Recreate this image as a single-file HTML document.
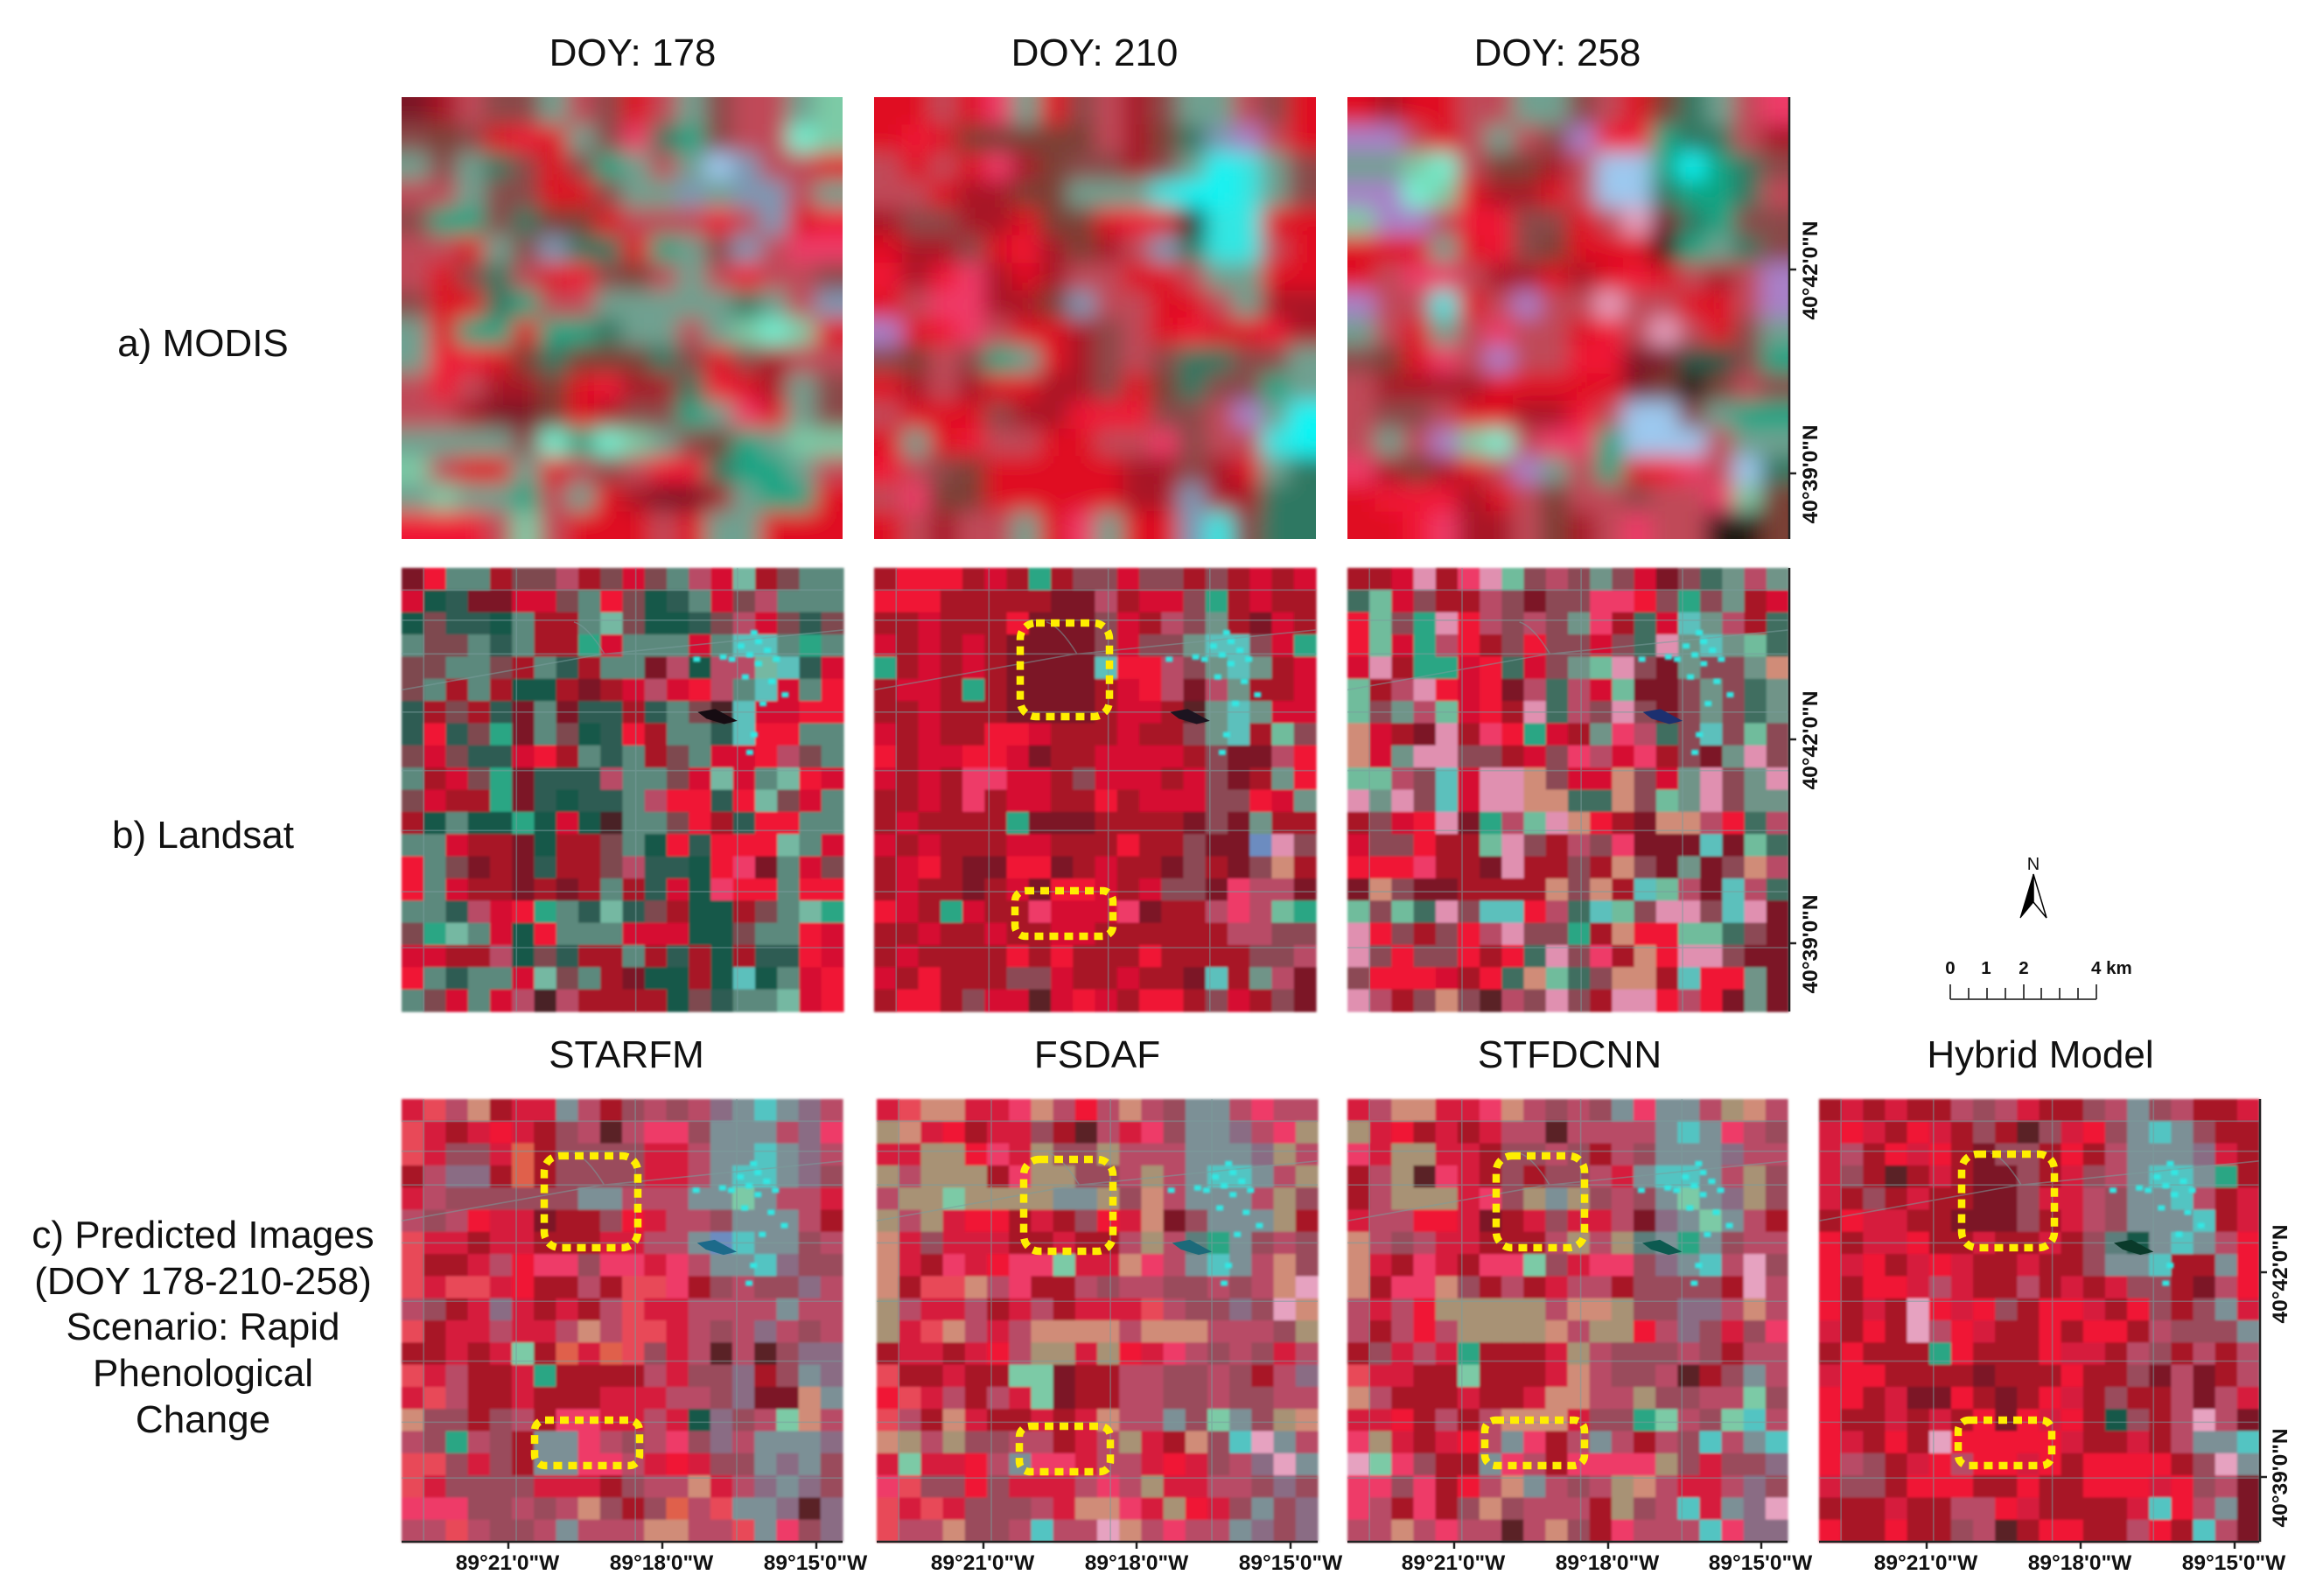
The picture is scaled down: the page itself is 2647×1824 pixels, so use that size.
<!DOCTYPE html>
<html lang="en">
<head>
<meta charset="utf-8">
<title>Satellite image fusion comparison</title>
<style>
html,body{margin:0;padding:0;background:#fff;}
svg{display:block;}
text{font-family:"Liberation Sans",Arial,sans-serif;fill:#111;}
.hd{font-size:44px;text-anchor:middle;}
.ax{font-size:24.5px;font-weight:bold;text-anchor:middle;}
.box{fill:none;stroke:#ffee00;stroke-width:8.5;stroke-dasharray:10 7;}
.axl{stroke:#222;stroke-width:2.5;fill:none;}
.road{fill:none;stroke:#7a9c9c;stroke-width:1.6;opacity:.55;}
</style>
</head>
<body>
<svg id="figure" xmlns="http://www.w3.org/2000/svg" width="2647" height="1824" viewBox="0 0 2647 1824">
<defs>
<filter id="modisBlur" filterUnits="userSpaceOnUse" x="300" y="0" width="1900" height="760"><feGaussianBlur stdDeviation="12.5"/></filter>
<filter id="fieldBlur" filterUnits="userSpaceOnUse" x="300" y="500" width="2400" height="1324"><feGaussianBlur stdDeviation="1.2"/></filter>
<clipPath id="c1"><rect x="459" y="111" width="504" height="505"/></clipPath>
<clipPath id="c2"><rect x="999" y="111" width="505" height="505"/></clipPath>
<clipPath id="c3"><rect x="1540" y="111" width="504" height="505"/></clipPath>
</defs>
<rect width="2647" height="1824" fill="#fff"/>

<text class="hd" x="723" y="75">DOY: 178</text>
<text class="hd" x="1251" y="75">DOY: 210</text>
<text class="hd" x="1780" y="75">DOY: 258</text>

<text class="hd" x="232" y="407">a) MODIS</text>
<text class="hd" x="232" y="969">b) Landsat</text>
<g>
<text class="hd" x="232" y="1426">c) Predicted Images</text>
<text class="hd" x="232" y="1479">(DOY 178-210-258)</text>
<text class="hd" x="232" y="1531">Scenario: Rapid</text>
<text class="hd" x="232" y="1584">Phenological</text>
<text class="hd" x="232" y="1637">Change</text>
</g>

<g id="p-modis-178" clip-path="url(#c1)"></g>
<g id="p-modis-210" clip-path="url(#c2)"></g>
<g id="p-modis-258" clip-path="url(#c3)"></g>
<g id="p-land-178"></g>
<g id="p-land-210"></g>
<g id="p-land-258"></g>
<g id="p-starfm"></g>
<g id="p-fsdaf"></g>
<g id="p-stfdcnn"></g>
<g id="p-hybrid"></g>

<rect class="box" x="1166" y="712" width="102" height="107" rx="18"/>
<rect class="box" x="1160" y="1018" width="112" height="52" rx="12"/>
<rect class="box" x="622" y="1321" width="107" height="105" rx="18"/>
<rect class="box" x="611" y="1623" width="120" height="52" rx="12"/>
<rect class="box" x="1170" y="1325" width="102" height="105" rx="18"/>
<rect class="box" x="1165" y="1630" width="104" height="52" rx="12"/>
<rect class="box" x="1710" y="1321" width="101" height="105" rx="18"/>
<rect class="box" x="1697" y="1623" width="114" height="52" rx="12"/>
<rect class="box" x="2242" y="1319" width="106" height="107" rx="18"/>
<rect class="box" x="2238" y="1623" width="107" height="52" rx="12"/>

<text class="hd" x="716" y="1220">STARFM</text>
<text class="hd" x="1254" y="1220">FSDAF</text>
<text class="hd" x="1794" y="1220">STFDCNN</text>
<text class="hd" x="2332" y="1220">Hybrid Model</text>

<g>
<path class="axl" d="M2045 111V616M2045 308H2053M2045 541H2053"/>
<text class="ax" transform="translate(2077,309) rotate(-90)">40°42'0"N</text>
<text class="ax" transform="translate(2077,542) rotate(-90)">40°39'0"N</text>
</g>
<g>
<path class="axl" d="M2045 649V1156M2045 845H2053M2045 1078H2053"/>
<text class="ax" transform="translate(2077,846) rotate(-90)">40°42'0"N</text>
<text class="ax" transform="translate(2077,1079) rotate(-90)">40°39'0"N</text>
</g>
<g>
<path class="axl" d="M2583 1256V1762M2583 1454H2591M2583 1688H2591"/>
<text class="ax" transform="translate(2614,1456) rotate(-90)">40°42'0"N</text>
<text class="ax" transform="translate(2614,1689) rotate(-90)">40°39'0"N</text>
</g>

<g>
<path class="axl" d="M459 1762H963M581 1762V1770M757 1762V1770M933 1762V1770"/>
<text class="ax" x="580" y="1794">89°21'0"W</text><text class="ax" x="756" y="1794">89°18'0"W</text><text class="ax" x="932" y="1794">89°15'0"W</text>
</g>
<g>
<path class="axl" d="M1002 1762H1506M1124 1762V1770M1299 1762V1770M1475 1762V1770"/>
<text class="ax" x="1123" y="1794">89°21'0"W</text><text class="ax" x="1299" y="1794">89°18'0"W</text><text class="ax" x="1475" y="1794">89°15'0"W</text>
</g>
<g>
<path class="axl" d="M1540 1762H2043M1662 1762V1770M1838 1762V1770M2013 1762V1770"/>
<text class="ax" x="1661" y="1794">89°21'0"W</text><text class="ax" x="1837" y="1794">89°18'0"W</text><text class="ax" x="2012" y="1794">89°15'0"W</text>
</g>
<g>
<path class="axl" d="M2079 1762H2582M2202 1762V1770M2378 1762V1770M2554 1762V1770"/>
<text class="ax" x="2201" y="1794">89°21'0"W</text><text class="ax" x="2377" y="1794">89°18'0"W</text><text class="ax" x="2553" y="1794">89°15'0"W</text>
</g>

<g>
<text x="2324" y="994" font-size="20" text-anchor="middle">N</text>
<path d="M2324 999L2309 1049L2324 1031Z" fill="#000" stroke="#000" stroke-width="1"/>
<path d="M2324 999L2339 1049L2324 1031Z" fill="#fff" stroke="#000" stroke-width="1.5"/>
</g>
<g>
<path d="M2229 1142H2396M2229 1125V1142M2250 1129V1142M2271 1129V1142M2292 1129V1142M2313 1125V1142M2333 1129V1142M2354 1129V1142M2375 1129V1142M2396 1125V1142" fill="none" stroke="#333" stroke-width="1.8"/>
<g font-size="20.5" font-weight="bold">
<text x="2229" y="1113" text-anchor="middle">0</text>
<text x="2270" y="1113" text-anchor="middle">1</text>
<text x="2313" y="1113" text-anchor="middle">2</text>
<text x="2390" y="1113">4 km</text>
</g>
</g>
</svg>

<script>
const palette = {
  R:'#f01434', r:'#d61032', d:'#a81228', D:'#7c1426', p:'#ee3a68', P:'#e84a58',
  m:'#b84c66', M:'#8c4a54', g:'#6f9488', G:'#3f6e60', T:'#14584a', t:'#2aa684',
  l:'#7ccaa6', c:'#30e6e2', C:'#10f4f4', a:'#70f2d2', w:'#e6a2c0', s:'#d08c78',
  e:'#a89274', k:'#241a18', b:'#6c8cc0', h:'#9cc8ee', v:'#a880c8', u:'#8a6c84',
  n:'#7a4034', o:'#e0604c'
};
const modisTint = { m:'#c04a58', M:'#8a4a48', g:'#6fa090', t:'#10a584', G:'#2f7862', b:'#7c98b4', r:'#e01024' };
const landsatTint = { c:'#5cc0bc', k:'#5a2028', w:'#e090b0', l:'#70bc9c' };
const earlyTint = { c:'#5cc0bc', k:'#4a2026', g:'#5c897d', G:'#2e5c52', M:'#7e4850', l:'#74b8a2' };
const predictedTint = { c:'#52c4c2', k:'#5a2028', g:'#7c9096', G:'#5c7e7c', M:'#9a4c5c', r:'#d61a3c' };

const modis178 = [
"DdmMMgmMrmgMmmgl","MnMrRrgMpGtMmmal","gMgGMrMtgmghbmmr","mmgMMrrMggbgbbmg",
"MttMGnnrmmmRmbrR","mmrgMbGGrtgMbmpp","mrMGmrRMnmgmRmmM","MrrGtmmgggggGgmb",
"grttrttGggmglalr","gRRrnGnnnGMrMdmm","mRmddnrRddGRrdgM","mmdDDnrdMMtgprgM",
"ggggMatalgMntgll","lmrrgrmMmRRGttgm","glggtmgrdDDdgttr","RRRmlmrrrmrggrrr"];
const modis210 = [
"rrmrpgrMmdMggmMr","rRrnnnnnmdnGbvmr","mrmrpdnMMdMgCcgM","mmrddnngggcCCcgM",
"dMMddrnnrRrkccrr","rddMrRdndmbGccmr","RdRpdrdmmrrmggrr","rmppddnbmmrrmgdd",
"vrRpmrrdMmrRrrRd","MnmMtgrdMmMGGMMg","rdmdrrddMrnGMMtg","mrrrMddRRRMMmvgC",
"rgrRmmrrmmpMmmcC","RmMnrrrrrddMdrgG","mpnnrrrrrddbddGG","rmdmmgrpgrrbcMGG"];
const modis258 = [
"rdrrmmggMmrnGgmp","vvmrmgmMvRRtGGmd","gglamnndmhhtCtGM","vvalrddrmhhGttGm",
"lvvmRRMMrmwDGtMM","rrrgrRMnrrrktgGM","rmppmddrdrRrmdmv","vmmcrmvmmwmmrrmv",
"gmrgmpmmrRmwmrMg","MnrpmvmmRRDDTTMt","mddddrrrrrDnknmM","mMMmrrddRmhhMgtt",
"mgmvlamppthhhmgg","pdndrmvgmtrRpmhG","rRRRdrmnmmMmmpln","rrRpddmndmpmmkkn"];

const landsat178 = [
"DRggdMMmdMrMgmrldMgg","rTGDDrrMgRMTGgrMmggg","TMGGTgddglMTTGMmrMGM","gMMgGgddtrgggrgccgtg",
"MMggMdgGdggDmTmmlcGr","MgdgdTTdDdrmrRmgcrgR","GdMdGDgDGGdGgMkcrrRR","GRGMtDgMTGRdggGcRRgg",
"MrMGGrRdgGgdMgrrRmMg","gdrMtDGGGmggMrlrglRr","MrddtDGTGGgmRRGRlMrg","dTgTTtTrTkggMRdGRRgg",
"ggrddDTddMgTRGRRRlgr","RgMDdDGddMmGGTRpDgrM","RgrddDdDdgdGrTpRRgRR","ggGmrRtgGlGMdTTdMglt",
"MtlgrTRgggrrrTTMggRr","rrddmTMGddgdGdTdGGRr","RgGggrlMgdDTTdTcTgrR","gMrgrmkmddddTMGgglrR"];
const landsat210 = [
"dRRRdrdtdMMrMMdMdrdr","RRRdddddDDmdrrMtdrdd","ddrdddRDDDMrdmMgdDrd","rdrdrdDDDDMrMMgccMrt",
"tdrdrdDDDDcRRmMgcgdr","drrdtdDDDDdrRmDmgddr","ddrdddDDDDdrrdkgcgrr","rdrddRRrdddrddMgcdlM",
"RdrrRRrDddrrrrdMDDmR","rdrdpprrdMrrrdrMDdgR","ddrdpdrrddRdrrrMMRrg","drddddtDDDddddDMDgdd",
"rdrdddrrdddRddMDDbwM","drRdDDRRDdrddDMdDMsd","drddDdrDRRrdrMMDpmmD","RrdtrddprrrpDddmpmlt",
"ddrddrddrrddddddmmMM","drddddRdRdddRddddMMm","rdRdddMMrddrddDcdgmD","dRRdMrrkrRrdRRdMrdMD"];
const landsat258 = [
"ddrwdpwlMmMgMrDMGgmg","GlrMddmMDMMppRMtMgdr","RlMtwRmMmMgpdGrcgmdG","RlrtmRdMRMMrMGwgcglG",
"rwdttrRGrMglwMDgMMgs","ldmwRrRDmGmrlDDMgMGg","lMgmlrRdwGmMwMDMgMGg","srdDwdpRtrdgpmGMcMlM",
"srgwwMMdrMpmrpdMDgwM","llmMcrwwsMrrsMrgwMgw","wgwMcrwwssGGsMlgwMgg","dMrRwDtmlwsRdDssmRGm",
"rMMRddlwMdmMpDDDcDlG","RRRpddDwddMdsMDgDMsm","DsMDDddddsMsdclmDcmG","lMlGwMccRmGclMwwMcwD",
"wRMdMRmwMMtdsRRllGMD","wMRMMRdRGwMpdsRwwMDD","MRRRrdRGslGMssdcRRgD","wmdMsMkmMwMdwwRmRDgD"];

const starfm = [
"rPmsdrrgmdMmMmugcgum","PrdrRrdMmkmppMgggmup","PrMMrodMMMMrrmggcgum","dmuudodMMMMrrmgccguM",
"rmMMMMMMggmmmgglgmmr","mMmRrrDddMRrmmMgggmd","PrrdrrdddrrmmgbcggMm","PddrmRppMpprpmggcuMM",
"PrPPrRddmdPPpdMmMMum","mMdrurdrdmPrrmmmmgmm","PdrrmrrmsmPPrmMmumMm","ddrdrldoroPMrmkmkMuu",
"PrmddrtddddmrMMudMgu","rPmddrdddrrrmmMuDDsg","sMMdMmdpprrmrTuMmlsm","mMtmMdggpmMmpMumgggu",
"PPMrMdggppmrRrMMgugM","PrMMMMrrrdMmmsrmuguM","pppMMmMmsMdMomPgguku","mmPmMMmgmmmssmmPgpMu"];
const fsdaf = [
"rPssrrpsmRmsmMggmpmm","esrRdrrMdkmrpMggumpe","rreeRpreMMemmmggguem","emeeedpeeMMmemgccgme",
"meeleeeeggeMsmgggmeM","emerRRdrdMRrsDMggged","srMrrrddrddmemGtgMmM","srdprRpplrrspmgcgmsM",
"sdPPsmpddmMmmMMmMmsw","emrrmdrmdrrrPmMMuMws","erPsmrmssssmsssmmmMe","drrdrRmeereRrpmMmMrm",
"PddrddllDddmmMMmMdmu","RPrmdmrlDddmmMMmMMmm","PmdsrddrdrsmmgMlgMes","semeMMmmdrmerdsMcwgm",
"rlrrRmgpprmmrRrMmuwg","pPMMRMrrrmpmerrmmMuM","PrPrMMMmrsspreRrMgMu","PmmsMMmcmmwsmpmmguMu"];
const stfdcnn = [
"rmssrrpsmMmMgpggmesm","erRdrdrmmkmmmmgcgpmM","preerrdMMmMdmMgggumm","dmekprdMdMMmrgccgmeM",
"dmeeerpMegeMmMglgueM","rmmRRrDdrMrrmDuglgmd","smMmrrdddmemeGgtgMmm","srdprdpplMrppMugcmwM",
"sdppsMdmdrmmdMMMMdwm","mrmReeeeemsseMMuumsm","mdmRmeeeesmeeRmuMrMp","dMrmrtdddremMMMmMdmm",
"PrrddldddrsmMMmkdMgm","smdddrddrssmmeMMmmlM","rrRdmdmsssrMMtlmMlcm","perdrRmgpdmgmdmMcmgc",
"wlpMddgpmdppppeMrMMu","ppMpdRmsgmMmesmrrmuM","pmdpdMsMmmmdeMmcrguw","mmsmpmmkmsMdpmmmcpuu"];
const hybrid = [
"drdrddmMmrddMmgMmddr","rRrdRrdMdkMrRMgcgMdd","rmdRrRdDMMdRdmgggurd","rMdkdrdDDMdrMmgccgtd",
"rdMdrddDDMrrmMggcmdr","dRrrddDDDMdrmMgggcdr","RdrrRddrddrdMGTgcgmR","RrRdrRrddrddMggcddgR",
"RdRRrmrddmdrdrMMdDmR","RdrdwRrRMdRRrdRMdMgr","rdRdwmRrddRdRRdmMMMg","dRdddtRdddRrrdmMdmdm",
"rRRddddDdddRddMDmDdm","RRdrDDRdDdRrdMddmDmr","RddrdrdRDRrRdTMdmwmD","RrdRdwRRRRRrddrdmggc",
"RmMdrRmRRrRdRRRRdMwg","rMMdRRRddRddRRRrRMmD","dddrddmmRrddddrcRmgD","RddRddMmkdRRddmRdcmD"];

const SVGNS = 'http://www.w3.org/2000/svg';

function scale(start, size, count) {
  return function (i) { return start + size * i / count; };
}

function drawCells(group, rows, x, y, w, h, bleed, tint) {
  const nRows = rows.length;
  const nCols = rows[0].length;
  const sx = scale(x, w, nCols);
  const sy = scale(y, h, nRows);
  rows.forEach(function (row, i) {
    row.split('').forEach(function (ch, j) {
      const x0 = j === 0 ? sx(j) - bleed : sx(j);
      const x1 = j === nCols - 1 ? sx(j + 1) + bleed : sx(j + 1);
      const y0 = i === 0 ? sy(i) - bleed : sy(i);
      const y1 = i === nRows - 1 ? sy(i + 1) + bleed : sy(i + 1);
      const cell = document.createElementNS(SVGNS, 'rect');
      
      
      cell.setAttribute('x', x0);
      cell.setAttribute('y', y0);
      cell.setAttribute('width', x1 - x0 + 0.6);
      cell.setAttribute('height', y1 - y0 + 0.6);
      cell.setAttribute('fill', tint[ch] || palette[ch] || '#a81228');
      group.appendChild(cell);
    });
  });
}

function drawModis(id, rows, x, y, w, h) {
  const outer = document.getElementById(id);
  const inner = document.createElementNS(SVGNS, 'g');
  
  
  inner.setAttribute('filter', 'url(#modisBlur)');
  outer.appendChild(inner);
  drawCells(inner, rows, x, y, w, h, 40, modisTint);
}

function drawFields(id, rows, x, y, w, h, tint, lakeColor) {
  const outer = document.getElementById(id);
  const inner = document.createElementNS(SVGNS, 'g');
  
  
  inner.setAttribute('filter', 'url(#fieldBlur)');
  outer.appendChild(inner);
  drawCells(inner, rows, x, y, w, h, 0, tint);
  const f = function (a, b) { return (x + a * w) + ' ' + (y + b * h); };
  const horizontals = [0.05, 0.118, 0.194, 0.325, 0.457, 0.592, 0.73, 0.856];
  const verticals = [0.05, 0.26, 0.53, 0.76];
  let d = '';
  horizontals.forEach(function (b) {
    d += 'M' + f(0, b) + 'L' + f(1, b);
  });
  verticals.forEach(function (a) {
    d += 'M' + f(a, 0) + 'L' + f(a, 1);
  });
  d += 'M' + f(0, 0.275) + 'L' + f(0.45, 0.195) + 'L' + f(1, 0.14);
  d += 'M' + f(0.39, 0.122) + 'Q' + f(0.42, 0.13) + ' ' + f(0.46, 0.195);
  const roads = document.createElementNS(SVGNS, 'path');
  
  
  roads.setAttribute('class', 'road');
  roads.setAttribute('d', d);
  outer.appendChild(roads);

  const town = document.createElementNS(SVGNS, 'path');
  
  
  town.setAttribute('fill', '#30e8e4');
  town.setAttribute('filter', 'url(#fieldBlur)');
  let specks = '';
  [[0.76,0.17],[0.78,0.19],[0.80,0.16],[0.82,0.18],[0.79,0.14],[0.84,0.2],[0.74,0.2],[0.8,0.21],[0.77,0.24],[0.83,0.25],[0.72,0.195],[0.66,0.2],[0.86,0.28],[0.81,0.3],[0.79,0.37],[0.78,0.41]].forEach(function (p) {
    specks += 'M' + f(p[0], p[1]) + 'h8v6h-8z';
  });
  town.setAttribute('d', specks);
  outer.appendChild(town);

  const lake = document.createElementNS(SVGNS, 'path');
  
  
  lake.setAttribute('fill', lakeColor);
  lake.setAttribute('d', 'M' + f(0.67, 0.325) + 'L' + f(0.71, 0.318) + 'L' + f(0.76, 0.345) + 'L' + f(0.73, 0.352) + 'L' + f(0.69, 0.34) + 'Z');
  outer.appendChild(lake);
}

drawModis('p-modis-178', modis178, 459, 111, 504, 505);
drawModis('p-modis-210', modis210, 999, 111, 505, 505);
drawModis('p-modis-258', modis258, 1540, 111, 504, 505);
drawFields('p-land-178', landsat178, 459, 649, 505, 507, earlyTint, '#160c12');
drawFields('p-land-210', landsat210, 999, 649, 505, 507, landsatTint, '#1c1420');
drawFields('p-land-258', landsat258, 1540, 649, 504, 507, landsatTint, '#1c3070');
drawFields('p-starfm', starfm, 459, 1256, 504, 506, predictedTint, '#1c6a8a');
drawFields('p-fsdaf', fsdaf, 1002, 1256, 504, 506, predictedTint, '#1c6a7a');
drawFields('p-stfdcnn', stfdcnn, 1540, 1256, 503, 506, predictedTint, '#0c5a50');
drawFields('p-hybrid', hybrid, 2079, 1256, 503, 506, predictedTint, '#0a3a2a');
</script>
</body>
</html>
